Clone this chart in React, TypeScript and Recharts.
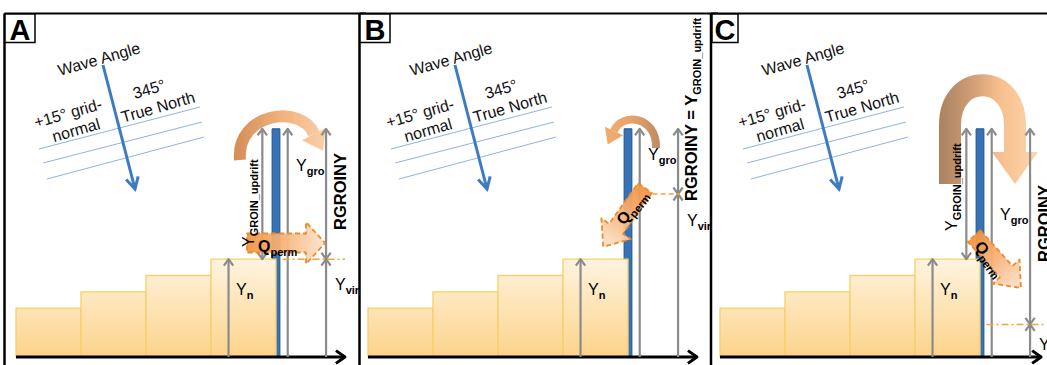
import React from 'react';
import { ComposedChart, Bar, XAxis, YAxis, ReferenceLine, ReferenceArea, Customized } from 'recharts';

// shoreline cells updrift of the groin (model units, 1 = one cell step)
const cellNames = ['1', '2', '3', '4', '5'];
const cellCentres = [0.5, 1.5, 2.5, 3.5, 4.5];
const shorelineY = [3, 4, 5, 6, null]; // cell 5 is downdrift of the groin, no sand drawn
const groinLength = 14;
const ynValue = 6;
const panelLabels = ['A', 'B', 'C'];
const yVirValues = [6, 10, 2];
const showUpdrift = [true, false, true];

// layout
const STEP = 352;
const W = 366;
const H = 365;
const MARGIN = { top: 31, right: W - 341, bottom: 8, left: 16 };
const FONT = '"Liberation Sans", Arial, sans-serif';
const GRAY = '#8b8b8b';
const ORANGE_LINE = '#f4a43a';
const X_YN = 3.27;
const X_UP = 3.79;
const X_GROIN = 4;
const GROIN_HALF = 0.06;
const X_GRO = 4.18;
const X_R = 4.77;
const AXIS_END = [5.06, 5.06, 4.94];
const DASH_FROM = [4.1, 4.38, 4.1];
const DASH_TO = [5.06, 4.8, 5.02];
const PANEL_LEFT = [4.5, 7.5, 7];

const chev = (x: number, y: number, ang: number, len = 8, spread = 0.62) => {
    const a1 = ang + Math.PI - spread;
    const a2 = ang + Math.PI + spread;
    return `M${x + len * Math.cos(a1)},${y + len * Math.sin(a1)} L${x},${y} L${x + len * Math.cos(a2)},${y + len * Math.sin(a2)}`;
};

const arrowShape = (heads: 'end' | 'both', color = GRAY, width = 2.2, len = 8) => (p: any) => {
    const { x1, y1, x2, y2 } = p;
    const ang = Math.atan2(y2 - y1, x2 - x1);
    return (
        <g>
            <line x1={x1} y1={y1} x2={x2} y2={y2} stroke={color} strokeWidth={width} />
            <path d={chev(x2, y2, ang, len)} fill="none" stroke={color} strokeWidth={width} strokeLinejoin="round" />
            {heads === 'both' && (
                <path d={chev(x1, y1, ang + Math.PI, len)} fill="none" stroke={color} strokeWidth={width} strokeLinejoin="round" />
            )}
        </g>
    );
};

// Y with a bold subscript
const YText = ({ sub, x = 0, y = 0, transform, size = 16, bold = false }: any) => (
    <text x={x} y={y} transform={transform} fontFamily={FONT} fontSize={size} fontWeight={bold ? 700 : 400} fill="#000">
        {bold ? 'RGROINY = Y' : 'Y'}
        <tspan fontSize={11} fontWeight={700} dy={4}>{sub}</tspan>
    </text>
);

const BlockArrow = ({ x, y, angle, len, body, head, headLen, grad }: any) => {
    const bh = body / 2;
    const hh = head / 2;
    const hx = len - headLen;
    const pts = `0,${-bh} ${hx},${-bh} ${hx},${-hh} ${len},0 ${hx},${hh} ${hx},${bh} 0,${bh}`;
    return (
        <g transform={`translate(${x},${y}) rotate(${angle})`}>
            <polygon points={pts} fill={`url(#${grad})`} fillOpacity={0.95} stroke="#ef8a2c" strokeWidth={1.8}
                strokeDasharray="5 3" strokeLinejoin="round" />
        </g>
    );
};

const CurvedArrow = ({ d, ex, ey, angle, width, headW, headL, grad }: any) => {
    const a = (angle * Math.PI) / 180;
    const px = -Math.sin(a);
    const py = Math.cos(a);
    const b1 = `${ex + px * headW / 2},${ey + py * headW / 2}`;
    const b2 = `${ex - px * headW / 2},${ey - py * headW / 2}`;
    const tip = `${ex + Math.cos(a) * headL},${ey + Math.sin(a) * headL}`;
    return (
        <g>
            <path d={d} fill="none" stroke={`url(#${grad})`} strokeWidth={width} />
            <polygon points={`${b1} ${tip} ${b2}`} fill={`url(#${grad})`} />
        </g>
    );
};

const Backdrop = ({ i }: { i: number }) => {
    const lx = PANEL_LEFT[i];
    const boxX = i === 0 ? 5 : 8;
    const boxW = i === 2 ? 26 : 30;
    return (
        <g>
            <defs>
                <linearGradient id={`sand${i}`} gradientUnits="userSpaceOnUse" x1={0} y1={255} x2={0} y2={357}>
                    <stop offset="0" stopColor="#fff5e4" />
                    <stop offset="1" stopColor="#fcd38a" />
                </linearGradient>
                <linearGradient id={`qp${i}`} x1="0" y1="0" x2="1" y2="0">
                    <stop offset="0" stopColor="#f29444" />
                    <stop offset="0.45" stopColor="#f7b277" />
                    <stop offset="1" stopColor="#fde5d0" />
                </linearGradient>
                <linearGradient id="curveA" gradientUnits="userSpaceOnUse" x1={232} y1={0} x2={332} y2={0}>
                    <stop offset="0" stopColor="#d48b55" />
                    <stop offset="0.5" stopColor="#f2b27e" />
                    <stop offset="1" stopColor="#fbd4b0" />
                </linearGradient>
                <linearGradient id="curveB" gradientUnits="userSpaceOnUse" x1={310} y1={0} x2={246} y2={0}>
                    <stop offset="0" stopColor="#b98a63" />
                    <stop offset="0.5" stopColor="#e9a46c" />
                    <stop offset="1" stopColor="#f5ad6e" />
                </linearGradient>
                <linearGradient id="curveC" gradientUnits="userSpaceOnUse" x1={234} y1={0} x2={336} y2={0}>
                    <stop offset="0" stopColor="#a8815f" />
                    <stop offset="0.35" stopColor="#d29f78" />
                    <stop offset="0.6" stopColor="#f6bf8d" />
                    <stop offset="1" stopColor="#fdd7b0" />
                </linearGradient>
            </defs>
            <line x1={lx} y1={13.5} x2={W} y2={13.5} stroke="#000" strokeWidth={2} />
            <line x1={lx} y1={13.5} x2={lx} y2={H} stroke="#000" strokeWidth={2.5} />
            <rect x={boxX} y={14} width={boxW} height={28.5} fill="#fff" stroke="#000" strokeWidth={1.5} />
            <text x={boxX + boxW / 2} y={39.5} textAnchor="middle" fontFamily={FONT} fontWeight={700} fontSize={29}>
                {panelLabels[i]}
            </text>

            {/* wave crests and wave angle */}
            <g stroke="#8fb3e0" strokeWidth={1}>
                <line x1={39} y1={149} x2={200} y2={107} />
                <line x1={43} y1={163} x2={202} y2={122} />
                <line x1={47} y1={179} x2={204} y2={137} />
            </g>
            <line x1={103} y1={65} x2={135} y2={189} stroke="#3c7bc4" strokeWidth={3} />
            <path d={chev(135, 189, Math.atan2(124, 32), 13, 0.5)} fill="none" stroke="#3c7bc4" strokeWidth={3} />
            <g fontFamily={FONT} fontSize={16} fill="#111" textAnchor="middle">
                <text transform="translate(99,59) rotate(-16)" dy="0.35em">Wave Angle</text>
                <text transform="translate(68,113) rotate(-16)" dy="0.35em">+15° grid-</text>
                <text transform="translate(76,130) rotate(-16)" dy="0.35em">normal</text>
                <text transform="translate(149,89) rotate(-16)" dy="0.35em">345°</text>
                <text transform="translate(158,107) rotate(-16)" dy="0.35em">True North</text>
            </g>

            {/* sediment bypassing arrows, behind the measurement arrows */}
            {i === 0 && (
                <CurvedArrow d="M240,160 C236,112 302,104 314,134" ex={314} ey={134} angle={62}
                    width={12} headW={27} headL={19} grad="curveA" />
            )}
            {i === 1 && (
                <CurvedArrow d="M304,148 C305,116 270,112 262,131" ex={262} ey={131} angle={115}
                    width={8} headW={20} headL={15} grad="curveB" />
            )}
            {i === 2 && (
                <CurvedArrow d="M246,184 L246,125 C246,72 311,72 311,125 L311,152" ex={311} ey={152} angle={90}
                    width={22} headW={46} headL={32} grad="curveC" />
            )}
        </g>
    );
};

// permeability arrows and labels, drawn above the groin
const Overlay = ({ i }: { i: number }) => {
    if (i === 0) {
        return (
            <g>
                <BlockArrow x={247} y={243} angle={0} len={78} body={19} head={42} headLen={19} grad="qp0" />
                <text x={258} y={252} fontFamily={FONT} fontSize={16} fontWeight={700}>
                    Q<tspan fontSize={11} dy={4}>perm</tspan>
                </text>
                <YText sub="n" x={236} y={295} />
                <YText sub="gro" x={296} y={171} />
                <YText sub="vir" x={335} y={290} />
                <YText sub="GROIN_updrift" transform="translate(254,247) rotate(-90)" />
                <text transform="translate(346,230) rotate(-90)" fontFamily={FONT} fontSize={16.5} fontWeight={700}>RGROINY</text>
            </g>
        );
    }
    if (i === 1) {
        return (
            <g>
                <BlockArrow x={293} y={188} angle={125.4} len={72} body={17} head={36} headLen={22} grad="qp1" />
                <text transform="translate(272,226) rotate(-52)" fontFamily={FONT} fontSize={16} fontWeight={700}>
                    Q<tspan fontSize={11} dy={4}>perm</tspan>
                </text>
                <YText sub="n" x={236} y={295} />
                <YText sub="gro" x={296} y={160} />
                <YText sub="vir" x={335} y={226} />
                <YText sub="GROIN_updrift" transform="translate(345,201) rotate(-90)" size={16.5} bold />
            </g>
        );
    }
    return (
        <g>
            <BlockArrow x={270} y={236} angle={47.9} len={70} body={17} head={36} headLen={22} grad="qp2" />
            <text transform="translate(270,246) rotate(55)" fontFamily={FONT} fontSize={16} fontWeight={700}>
                Q<tspan fontSize={11} dy={4}>perm</tspan>
            </text>
            <YText sub="n" x={236} y={295} />
            <YText sub="gro" x={296} y={220} />
            <YText sub="vir" x={335} y={350} />
            <YText sub="GROIN_updrift" transform="translate(253,231) rotate(-90)" />
            <text transform="translate(346,262) rotate(-90)" fontFamily={FONT} fontSize={16.5} fontWeight={700}>RGROINY</text>
        </g>
    );
};

const Panel = ({ i }: { i: number }) => {
    const data = cellNames.map((c, k) => ({ cell: c, pos: cellCentres[k], shore: shorelineY[k] }));
    const yv = yVirValues[i];
    return (
        <ComposedChart width={W} height={H} data={data} margin={MARGIN} barCategoryGap={0} barGap={0}>
            <XAxis xAxisId="cat" dataKey="cell" type="category" hide />
            <XAxis xAxisId="n" dataKey="pos" type="number" domain={[0, 5]} allowDataOverflow hide />
            <YAxis type="number" domain={[0, 20]} allowDataOverflow hide />
            <Customized component={<Backdrop i={i} />} />
            <Bar xAxisId="cat" dataKey="shore" fill={`url(#sand${i})`} stroke="#f8cf68" strokeWidth={1.3}
                isAnimationActive={false} />
            <ReferenceArea xAxisId="n" x1={X_GROIN - GROIN_HALF} x2={X_GROIN + GROIN_HALF} y1={0} y2={groinLength}
                fill="#3771b6" fillOpacity={1} stroke="#24568f" strokeWidth={1} ifOverflow="visible" />
            <ReferenceLine xAxisId="n" segment={[{ x: 0, y: 0 }, { x: AXIS_END[i], y: 0 }]}
                shape={arrowShape('end', '#000', 3, 11)} ifOverflow="visible" />
            <ReferenceLine xAxisId="n" segment={[{ x: X_YN, y: 0 }, { x: X_YN, y: ynValue }]}
                shape={arrowShape('end')} ifOverflow="visible" />
            {showUpdrift[i] && (
                <ReferenceLine xAxisId="n" segment={[{ x: X_UP, y: ynValue }, { x: X_UP, y: groinLength }]}
                    shape={arrowShape('both')} ifOverflow="visible" />
            )}
            <ReferenceLine xAxisId="n" segment={[{ x: X_GRO, y: 0 }, { x: X_GRO, y: groinLength }]}
                shape={arrowShape('end')} ifOverflow="visible" />
            <ReferenceLine xAxisId="n" segment={[{ x: X_R, y: yv }, { x: X_R, y: groinLength }]}
                shape={arrowShape('both')} ifOverflow="visible" />
            <ReferenceLine xAxisId="n" segment={[{ x: X_R, y: 0 }, { x: X_R, y: yv }]}
                shape={arrowShape('end')} ifOverflow="visible" />
            <ReferenceLine xAxisId="n" segment={[{ x: DASH_FROM[i], y: yv }, { x: DASH_TO[i], y: yv }]}
                stroke={ORANGE_LINE} strokeWidth={1.5} strokeDasharray={i === 1 ? '5 3' : '7 3 2 3'} ifOverflow="visible" />
        </ComposedChart>
    );
};

export default function App() {
    return (
        <div style={{ position: 'absolute', left: 0, top: 0, width: 1047, height: 365, overflow: 'hidden', background: '#fff' }}>
            {[0, 1, 2].map((i) => (
                <div key={i} style={{ position: 'absolute', left: i * STEP, top: 0, width: W, height: H }}>
                    <Panel i={i} />
                    <svg width={W} height={H} style={{ position: 'absolute', left: 0, top: 0, pointerEvents: 'none' }}>
                        <Overlay i={i} />
                    </svg>
                </div>
            ))}
        </div>
    );
}
